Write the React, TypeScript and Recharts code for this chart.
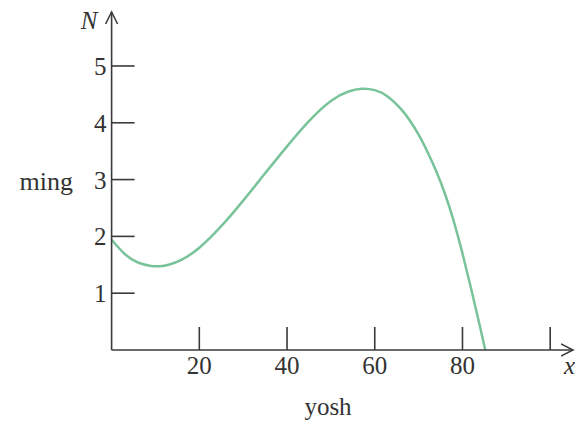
import React from 'react';
import { LineChart, Line, XAxis, YAxis, Label } from 'recharts';

const xValues = [0, 3, 6, 9, 11, 13, 16, 20, 25, 30, 35, 40, 45, 50, 54, 57, 60, 63, 66, 68, 70, 72, 74, 76, 78, 80, 82, 84, 85.2];
const nValues = [1.94, 1.69, 1.54, 1.48, 1.475, 1.5, 1.59, 1.8, 2.18, 2.63, 3.11, 3.585, 4.03, 4.385, 4.55, 4.6, 4.575, 4.46, 4.24, 4.04, 3.79, 3.49, 3.15, 2.75, 2.27, 1.7, 1.07, 0.41, 0];
const xTicks = [20, 40, 60, 80, 100];
const xLabeledTicks = [20, 40, 60, 80];
const yTicks = [1, 2, 3, 4, 5];
const xAxisTitle = 'yosh';
const yAxisTitle = 'ming';
const xSymbol = 'x';
const ySymbol = 'N';

const data = xValues.map((x, i) => ({ x, n: nValues[i] }));

const FONT = '"Liberation Serif", "Times New Roman", serif';
const FS = 25;
const TXT = '#333';
const AXIS = '#3a3a3a';
const LINE = '#79c39b';

const XTick = (props: any) => {
  const { x, y, payload } = props;
  return (
    <g>
      <line x1={x} x2={x} y1={y} y2={y - 23} stroke={AXIS} strokeWidth={1.6} />
      {xLabeledTicks.includes(payload.value) && (
        <text x={x} y={y + 24} textAnchor="middle" fontSize={FS} fontFamily={FONT} fill={TXT}>
          {payload.value}
        </text>
      )}
    </g>
  );
};

const YTick = (props: any) => {
  const { x, y, payload } = props;
  return (
    <g>
      <line x1={x} x2={x + 23} y1={y} y2={y} stroke={AXIS} strokeWidth={1.6} />
      <text x={x - 5} y={y + 9} textAnchor="end" fontSize={FS} fontFamily={FONT} fill={TXT}>
        {payload.value}
      </text>
    </g>
  );
};

const XTitles = (props: any) => {
  const vb = props.viewBox || {};
  return (
    <g>
      <text x={vb.x + vb.width * 0.469} y={vb.y + 65} textAnchor="middle" fontSize={FS} fontFamily={FONT} fill={TXT}>
        {xAxisTitle}
      </text>
      <text x={vb.x + vb.width - 9} y={vb.y + 24} textAnchor="start" fontSize={FS} fontStyle="italic" fontFamily={FONT} fill={TXT}>
        {xSymbol}
      </text>
    </g>
  );
};

const YTitles = (props: any) => {
  const vb = props.viewBox || {};
  return (
    <g>
      <text x={vb.x + 21.4} y={vb.y + 178} textAnchor="end" fontSize={26} fontFamily={FONT} fill={TXT}>
        {yAxisTitle}
      </text>
      <text x={vb.x + 37.4} y={vb.y + 17} textAnchor="middle" fontSize={FS} fontStyle="italic" fontFamily={FONT} fill={TXT}>
        {ySymbol}
      </text>
    </g>
  );
};

export default function App() {
  return (
    <div style={{ position: 'absolute', left: 0, top: 0, width: 575, height: 424, background: '#fff' }}>
      <svg width={0} height={0} style={{ position: 'absolute' }}>
        <defs>
          <marker
            id="arrowHead"
            viewBox="0 0 14 14"
            refX={12}
            refY={7}
            markerWidth={14}
            markerHeight={14}
            markerUnits="userSpaceOnUse"
            orient="auto-start-reverse"
          >
            <path d="M0,1 L12,7 L0,13" fill="none" stroke={AXIS} strokeWidth={1.5} />
          </marker>
        </defs>
      </svg>
      <LineChart width={575} height={424} data={data} margin={{ top: 12, right: 2, bottom: 44, left: 51.6 }}>
        <XAxis
          dataKey="x"
          type="number"
          domain={[0, 105.2]}
          ticks={xTicks}
          interval={0}
          height={30}
          tickSize={0}
          tickMargin={0}
          tickLine={false}
          tick={<XTick />}
          axisLine={{ stroke: AXIS, strokeWidth: 1.6, markerEnd: 'url(#arrowHead)' }}
        >
          <Label content={<XTitles />} />
        </XAxis>
        <YAxis
          type="number"
          domain={[0, 5.95]}
          ticks={yTicks}
          interval={0}
          width={60}
          tickSize={0}
          tickMargin={0}
          tickLine={false}
          tick={<YTick />}
          axisLine={{ stroke: AXIS, strokeWidth: 1.6, markerStart: 'url(#arrowHead)' }}
        >
          <Label content={<YTitles />} />
        </YAxis>
        <Line
          type="natural"
          dataKey="n"
          stroke={LINE}
          strokeWidth={2.5}
          dot={false}
          activeDot={false}
          isAnimationActive={false}
        />
      </LineChart>
    </div>
  );
}
